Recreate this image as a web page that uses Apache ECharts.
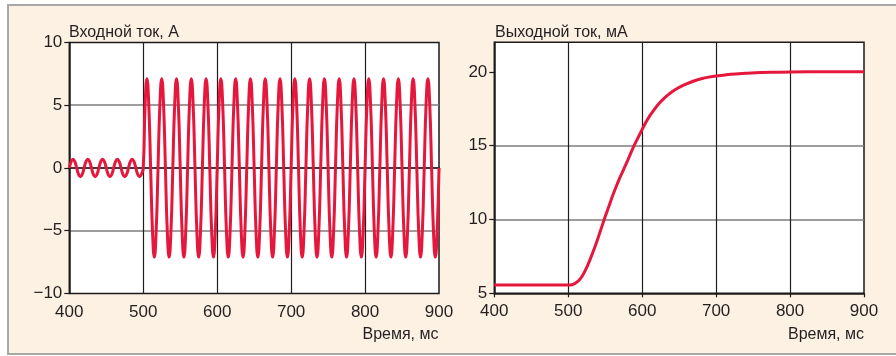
<!DOCTYPE html>
<html>
<head>
<meta charset="utf-8">
<script src="https://cdn.jsdelivr.net/npm/echarts@6/dist/echarts.min.js"></script>
<style>
  html, body { margin: 0; padding: 0; background: #ffffff; }
  #frame { position: absolute; left: 7px; top: 4px; width: 900px; height: 347px;
           background: #fdf1e3; border: 2px solid #a8a8a8; border-right: none; }
  #chart { position: absolute; left: 0; top: 0; width: 896px; height: 356px; }
</style>
</head>
<body>
<div id="frame"></div>
<div id="chart"></div>
<script>
// ---- data ----
const titleIn = 'Входной ток, А';
const titleOut = 'Выходной ток, мА';
const xName = 'Время, мс';
const xTicks = [400, 500, 600, 700, 800, 900];
const yTicksIn = [-10, -5, 0, 5, 10];
const yTicksOut = [5, 10, 15, 20];

// input current, sampled every 2.5 ms from 400 ms
const inputStartMs = 400;
const inputStepMs = 2.5;
const inputCurrent = [
  0, 0.5, 0.7, 0.5, 0, -0.5, -0.7, -0.5,
  0, 0.5, 0.7, 0.5, 0, -0.5, -0.7, -0.5,
  0, 0.5, 0.7, 0.5, 0, -0.5, -0.7, -0.5,
  0, 0.5, 0.7, 0.5, 0, -0.5, -0.7, -0.5,
  0, 0.5, 0.7, 0.5, 0, -0.5, -0.7, -0.5,
  0, 5.0, 7.1, 5.0, 0, -5.0, -7.1, -5.0,
  0, 5.0, 7.1, 5.0, 0, -5.0, -7.1, -5.0,
  0, 5.0, 7.1, 5.0, 0, -5.0, -7.1, -5.0,
  0, 5.0, 7.1, 5.0, 0, -5.0, -7.1, -5.0,
  0, 5.0, 7.1, 5.0, 0, -5.0, -7.1, -5.0,
  0, 5.0, 7.1, 5.0, 0, -5.0, -7.1, -5.0,
  0, 5.0, 7.1, 5.0, 0, -5.0, -7.1, -5.0,
  0, 5.0, 7.1, 5.0, 0, -5.0, -7.1, -5.0,
  0, 5.0, 7.1, 5.0, 0, -5.0, -7.1, -5.0,
  0, 5.0, 7.1, 5.0, 0, -5.0, -7.1, -5.0,
  0, 5.0, 7.1, 5.0, 0, -5.0, -7.1, -5.0,
  0, 5.0, 7.1, 5.0, 0, -5.0, -7.1, -5.0,
  0, 5.0, 7.1, 5.0, 0, -5.0, -7.1, -5.0,
  0, 5.0, 7.1, 5.0, 0, -5.0, -7.1, -5.0,
  0, 5.0, 7.1, 5.0, 0, -5.0, -7.1, -5.0,
  0, 5.0, 7.1, 5.0, 0, -5.0, -7.1, -5.0,
  0, 5.0, 7.1, 5.0, 0, -5.0, -7.1, -5.0,
  0, 5.0, 7.1, 5.0, 0, -5.0, -7.1, -5.0,
  0, 5.0, 7.1, 5.0, 0, -5.0, -7.1, -5.0,
  0, 5.0, 7.1, 5.0, 0, -5.0, -7.1, -5.0,
  0
];

// output current
const outputTime = [400, 500, 505, 510, 515, 520, 525, 530, 535, 540, 545, 550, 555, 560, 565,
  570, 575, 580, 585, 590, 595, 600, 605, 610, 615, 620, 625, 630, 635, 640, 645, 650,
  660, 670, 680, 690, 700, 720, 740, 760, 780, 800, 850, 900];
const outputCurrent = [5.56, 5.56, 5.58, 5.7, 5.9, 6.25, 6.75, 7.35, 8.0, 8.7, 9.45, 10.2, 10.9, 11.6, 12.25,
  12.85, 13.4, 13.95, 14.55, 15.1, 15.6, 16.1, 16.58, 17.0, 17.36, 17.69, 17.97, 18.22, 18.44, 18.63, 18.8, 18.95,
  19.19, 19.38, 19.53, 19.64, 19.72, 19.84, 19.9, 19.95, 19.97, 19.99, 20.0, 20.0];

// ---- build ----
const inputData = inputCurrent.map((v, i) => [inputStartMs + i * inputStepMs, v]);
const outputData = outputTime.map((t, i) => [t, outputCurrent[i]]);

const FONT = "'Liberation Sans', Arial, sans-serif";
const TXT = '#231f20';
const RED = '#e6173c';

function xAxisCfg(gridIndex) {
  return {
    type: 'value', gridIndex, min: 400, max: 900, interval: 100,
    axisLine: { show: true, lineStyle: { color: '#1a1a1a', width: 1.5 } },
    axisTick: { show: true, inside: false, length: 4, lineStyle: { color: '#1a1a1a', width: 1.2 } },
    axisLabel: { color: TXT, fontFamily: FONT, fontSize: 17, margin: 10 },
    splitLine: { show: true, showMinLine: false, showMaxLine: false, lineStyle: { color: '#1e1e1e', width: 1.2 } }
  };
}
function yAxisCfg(gridIndex, min, max, ticks) {
  return {
    type: 'value', gridIndex, min, max, interval: 5,
    axisLine: { show: true, lineStyle: { color: '#1a1a1a', width: 1.5 } },
    axisTick: { show: true, inside: false, length: 5, customValues: ticks, lineStyle: { color: '#1a1a1a', width: 1.2 } },
    axisLabel: { color: TXT, fontFamily: FONT, fontSize: 17, margin: 7, customValues: ticks,
      formatter: v => (v < 0 ? '\u2212' + Math.abs(v) : String(v)) },
    splitLine: { show: true, showMinLine: false, showMaxLine: false, lineStyle: { color: '#7c7c7c', width: 1.6 } }
  };
}

const chart = echarts.init(document.getElementById('chart'), null, { renderer: 'canvas' });
chart.setOption({
  backgroundColor: 'transparent',
  animation: false,
  grid: [
    { left: 69.3, right: 457, top: 42.4, bottom: 62.5, show: true, backgroundColor: '#ffffff', borderColor: '#1a1a1a', borderWidth: 1.5 },
    { left: 494.3, right: 32, top: 42.3, bottom: 62.7, show: true, backgroundColor: '#ffffff', borderColor: '#1a1a1a', borderWidth: 1.5 }
  ],
  xAxis: [xAxisCfg(0), xAxisCfg(1)],
  yAxis: [yAxisCfg(0, -10, 10, yTicksIn), yAxisCfg(1, 5, 22, yTicksOut)],
  graphic: [
    { type: 'text', left: 69, top: 24.5, style: { text: titleIn, fill: TXT, font: '16px ' + FONT } },
    { type: 'text', left: 495, top: 24.5, style: { text: titleOut, fill: TXT, font: '16px ' + FONT } },
    { type: 'text', right: 457.5, top: 326.5, style: { text: xName, fill: TXT, font: '16px ' + FONT } },
    { type: 'text', right: 32, top: 326.5, style: { text: xName, fill: TXT, font: '16px ' + FONT } }
  ],
  series: [
    { type: 'line', xAxisIndex: 0, yAxisIndex: 0, data: inputData, smooth: 0.5, showSymbol: false,
      lineStyle: { color: RED, width: 3 }, clip: true },
    { type: 'line', xAxisIndex: 1, yAxisIndex: 1, data: outputData, smooth: 0.3, showSymbol: false,
      lineStyle: { color: RED, width: 3 }, clip: true }
  ]
});
</script>
</body>
</html>
